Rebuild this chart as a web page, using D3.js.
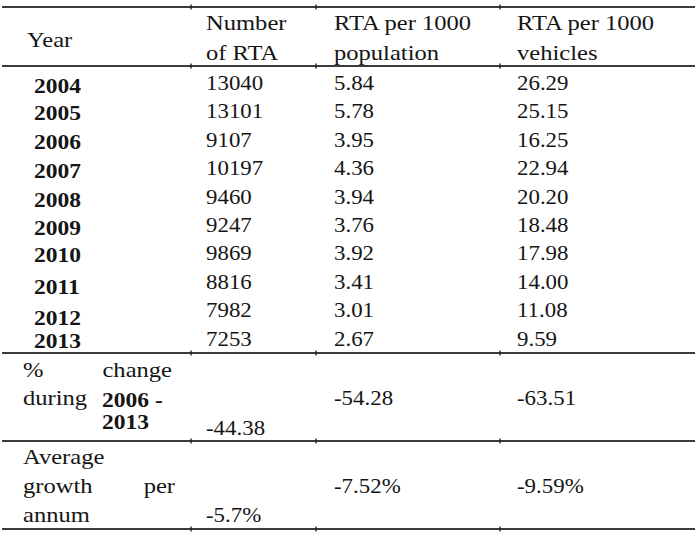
<!DOCTYPE html>
<html>
<head>
<meta charset="utf-8">
<script src="https://cdn.jsdelivr.net/npm/d3@7"></script>
<style>
  html, body { margin: 0; padding: 0; background: #fff; }
  svg { display: block; }
  text { font-family: "Liberation Serif", "Times New Roman", serif; fill: #151515; }
</style>
</head>
<body>
<svg id="chart" width="695" height="542"></svg>
<script>
// ---- data ----
const columns = ["Year", "Number of RTA", "RTA per 1000 population", "RTA per 1000 vehicles"];
const headerLines = [["Year"], ["Number", "of RTA"], ["RTA per 1000", "population"], ["RTA per 1000", "vehicles"]];
const years = ["2004", "2005", "2006", "2007", "2008", "2009", "2010", "2011", "2012", "2013"];
const numberOfRTA = ["13040", "13101", "9107", "10197", "9460", "9247", "9869", "8816", "7982", "7253"];
const rtaPerPopulation = ["5.84", "5.78", "3.95", "4.36", "3.94", "3.76", "3.92", "3.41", "3.01", "2.67"];
const rtaPerVehicles = ["26.29", "25.15", "16.25", "22.94", "20.20", "18.48", "17.98", "14.00", "11.08", "9.59"];
const changeLabel = "% change during 2006 - 2013";
const changeValues = ["-44.38", "-54.28", "-63.51"];
const growthLabel = "Average growth per annum";
const growthValues = ["-5.7%", "-7.52%", "-9.59%"];

// ---- layout ----
const W = 695, H = 542;
const FS = 21, SX = 1.17, SXNUM = 1.09;
const svg = d3.select("#chart");

const colX = d3.scaleOrdinal().domain(columns).range([27, 206, 334, 517]);
const rowY = d3.scaleLinear().domain([0, years.length - 1]).range([90, 345.5]);
const yearNudge = [2.5, 2, 2, 2.5, 3, 3, 2, 5, 8, 2.5];
const ruleY = [7, 66, 353, 441, 529];
const tickX = [191, 316, 500];

function txt(x, y, s, opts = {}) {
  const sx = opts.sx || SX;
  const t = svg.append("text")
    .attr("transform", `translate(${x},${y}) scale(${sx},1)`)
    .attr("font-size", opts.size || FS)
    .attr("text-anchor", opts.anchor || "start")
    .text(s);
  if (opts.bold) t.attr("font-weight", "bold");
  return t;
}
const num = { sx: SXNUM };

// rules
svg.selectAll("line.rule").data(ruleY).join("line")
  .attr("class", "rule")
  .attr("x1", 2).attr("x2", W)
  .attr("y1", d => d).attr("y2", d => d)
  .attr("stroke", "#3c3c3c").attr("stroke-width", 2.2);
// tiny column ticks on rules
ruleY.forEach(y => {
  svg.selectAll(null).data(tickX).join("line")
    .attr("x1", d => d).attr("x2", d => d)
    .attr("y1", y - 2.5).attr("y2", y + 2.5)
    .attr("stroke", "#222").attr("stroke-width", 1.4);
});

// header
headerLines.forEach((lines, ci) => {
  const x = colX(columns[ci]);
  if (lines.length === 1) {
    txt(x, 47, lines[0]);
  } else {
    txt(x, 30, lines[0]);
    txt(x, 60, lines[1]);
  }
});

// body rows
years.forEach((yr, i) => {
  const y = rowY(i);
  txt(colX(columns[0]) + 7, y + yearNudge[i], yr, { bold: true, sx: 1.12 });
  txt(colX(columns[1]), y, numberOfRTA[i], num);
  txt(colX(columns[2]), y, rtaPerPopulation[i], num);
  txt(colX(columns[3]), y, rtaPerVehicles[i], num);
});

// % change row
const cw = changeLabel.split(" "); // ["%","change","during","2006","-","2013"]
txt(23, 377, cw[0]);
txt(172, 377, cw[1], { anchor: "end" });
txt(23, 405, cw[2]);
txt(102, 407, cw[3] + " " + cw[4], { bold: true, sx: 1.12 });
txt(102, 429, cw[5], { bold: true, sx: 1.12 });
txt(colX(columns[1]), 435, changeValues[0], num);
txt(colX(columns[2]), 405, changeValues[1], num);
txt(colX(columns[3]), 405, changeValues[2], num);

// average growth row
const gw = growthLabel.split(" "); // ["Average","growth","per","annum"]
txt(23, 464, gw[0]);
txt(23, 493, gw[1]);
txt(175, 493, gw[2], { anchor: "end" });
txt(23, 522, gw[3]);
txt(colX(columns[1]), 522, growthValues[0], num);
txt(colX(columns[2]), 493, growthValues[1], num);
txt(colX(columns[3]), 493, growthValues[2], num);
</script>
</body>
</html>
